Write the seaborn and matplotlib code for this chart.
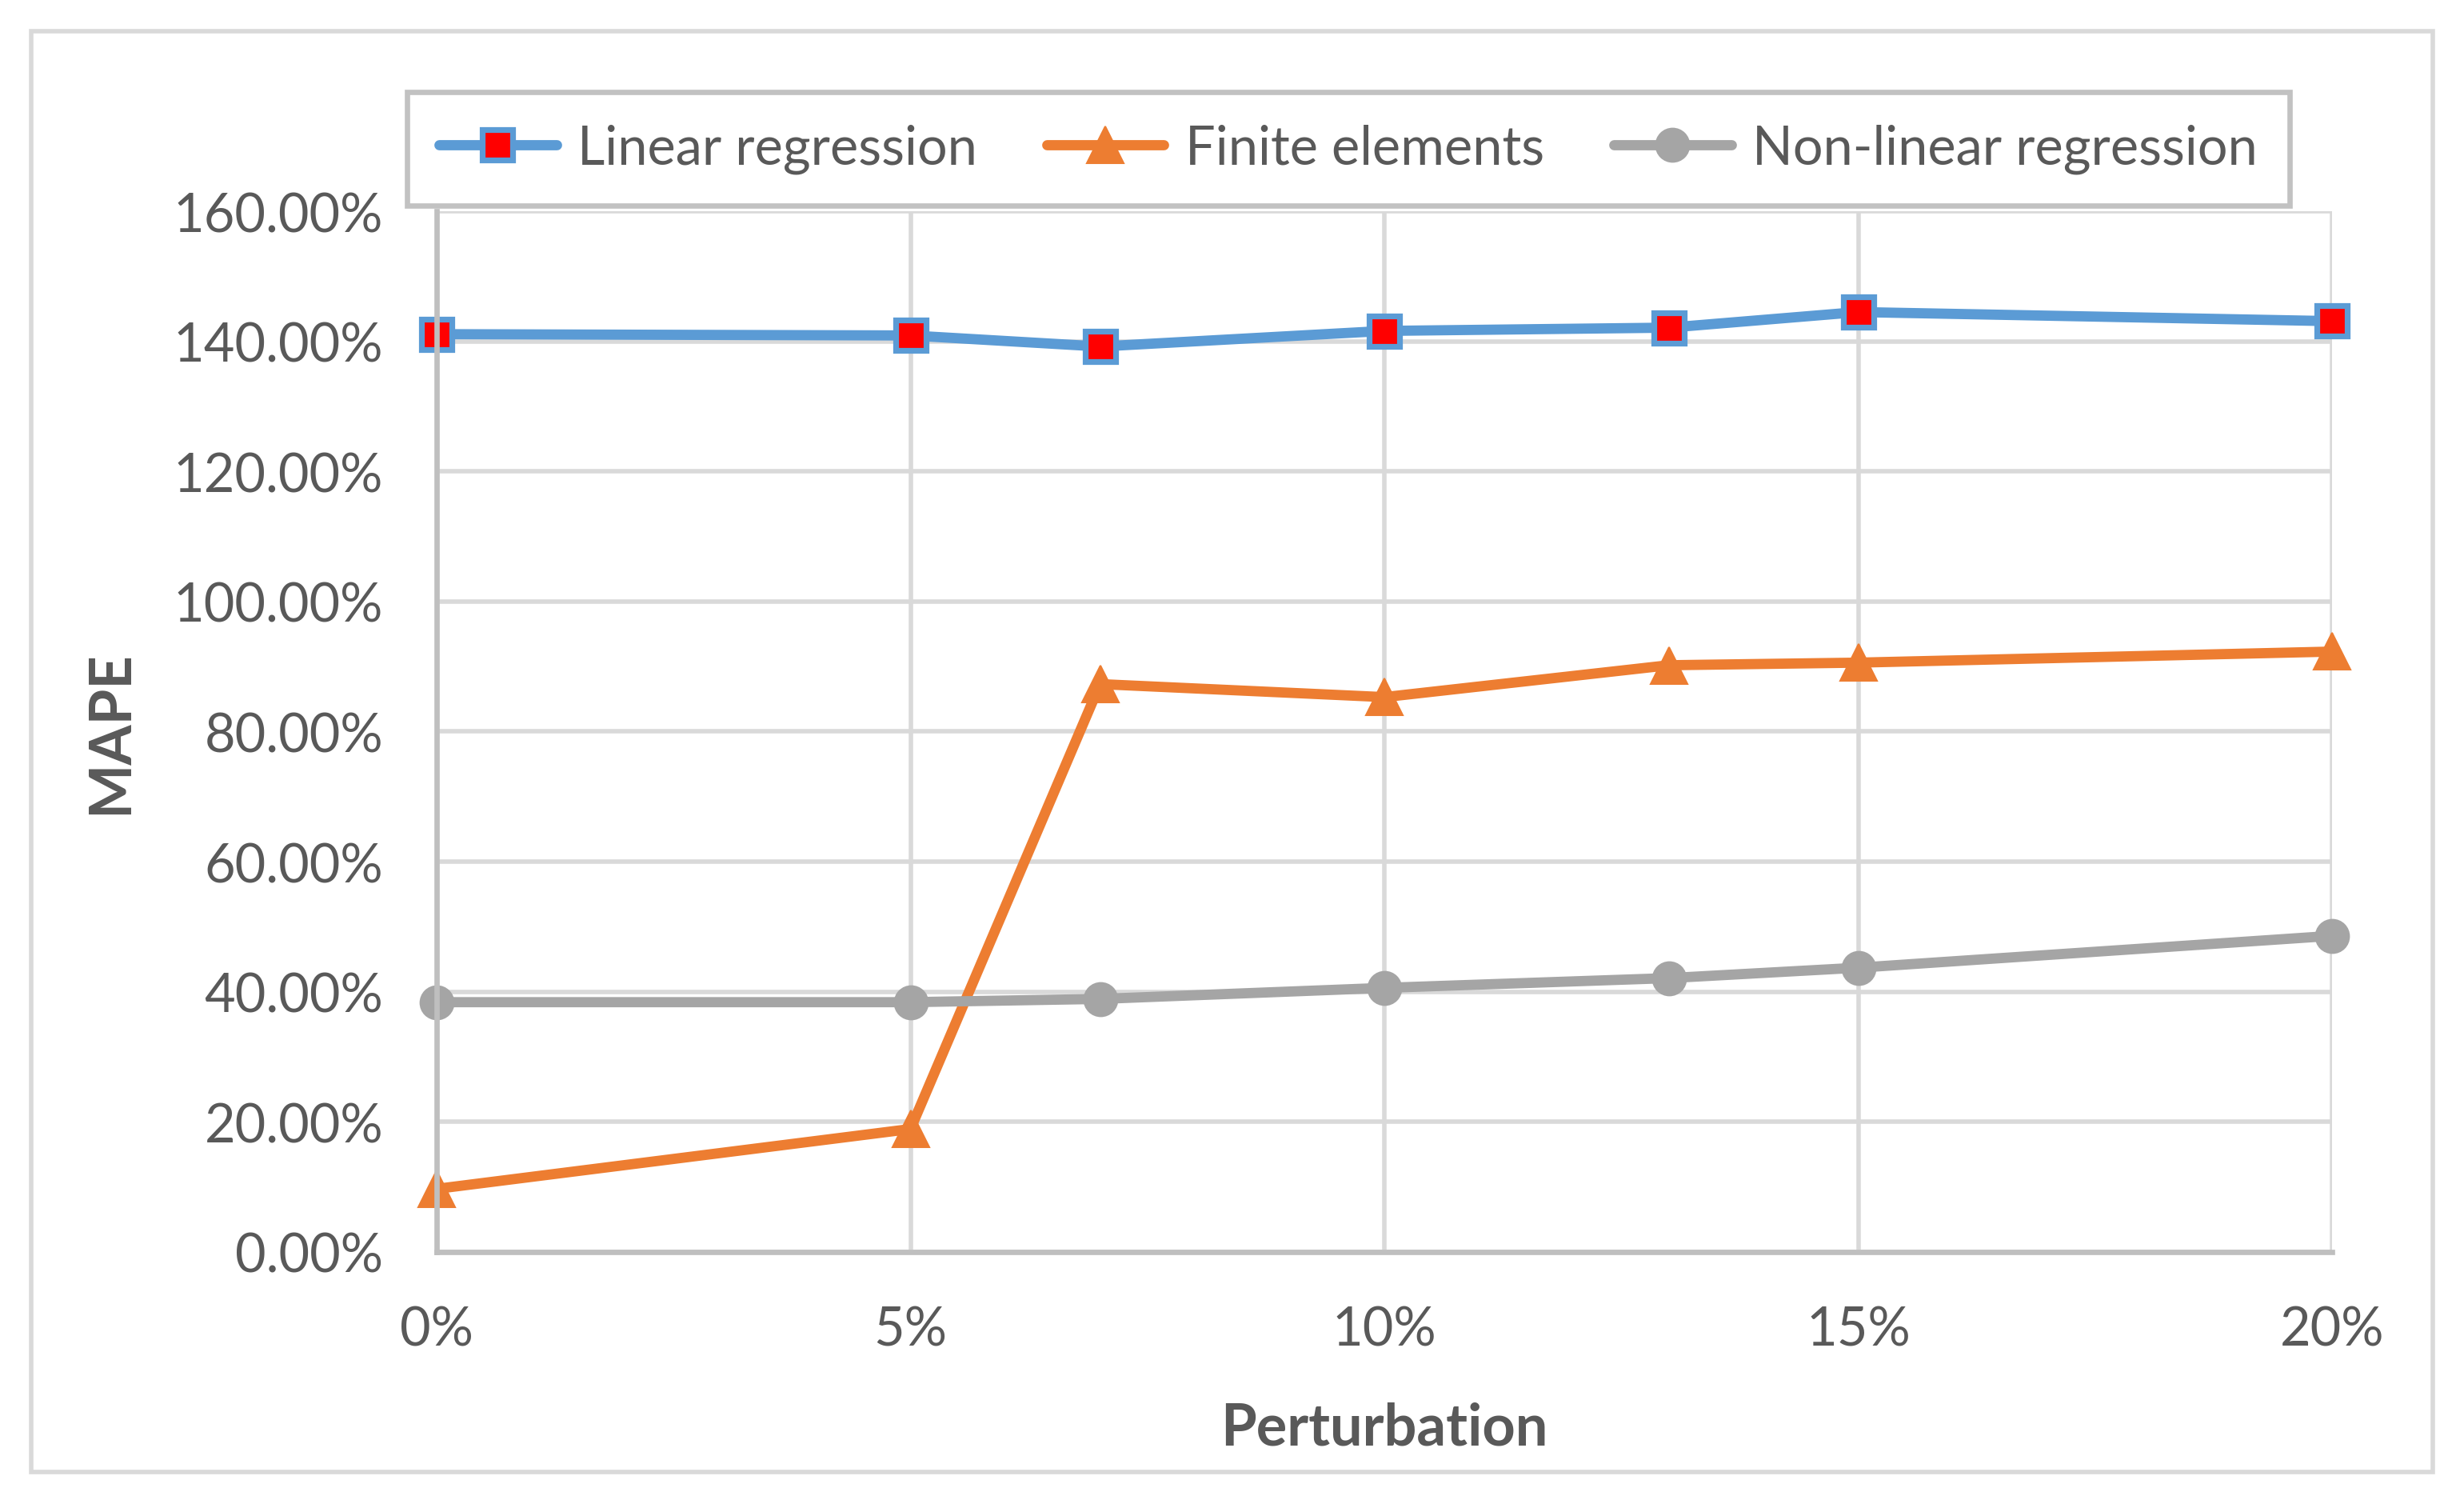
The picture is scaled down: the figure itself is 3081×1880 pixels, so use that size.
import matplotlib
matplotlib.use("Agg")
import matplotlib.pyplot as plt
from matplotlib.patches import Rectangle
from matplotlib.ticker import FuncFormatter, MultipleLocator
import pandas as pd
import seaborn as sns

perturbation = [0, 5, 7, 10, 13, 15, 20]
linear_reg = [141.1, 140.9, 139.2, 141.6, 142.1, 144.5, 143.1]
finite_el = [9.7, 18.9, 87.3, 85.3, 90.2, 90.6, 92.3]
nonlinear_reg = [38.4, 38.4, 38.9, 40.6, 42.1, 43.7, 48.6]
series_names = ["Linear regression", "Finite elements", "Non-linear regression"]

df = pd.DataFrame({
    "Perturbation": perturbation * 3,
    "MAPE": linear_reg + finite_el + nonlinear_reg,
    "Series": [n for n in series_names for _ in perturbation],
})

sns.set_style("white")
plt.rcParams["font.family"] = ["Lato", "DejaVu Sans"]
text_col = "#595959"

fig = plt.figure(figsize=(15.405, 9.405), dpi=200)
ax = fig.add_axes([0.1772, 0.1675, 0.7693, 0.6916])

styles = {
    "Linear regression": dict(color="#5B9BD5", marker="s", markersize=13.5,
                              markerfacecolor="#FF0000", markeredgecolor="#5B9BD5",
                              markeredgewidth=2.6),
    "Finite elements": dict(color="#ED7D31", marker="^", markersize=16.5,
                            markerfacecolor="#ED7D31", markeredgecolor="#ED7D31"),
    "Non-linear regression": dict(color="#A5A5A5", marker="o", markersize=15,
                                  markerfacecolor="#A5A5A5", markeredgecolor="#A5A5A5"),
}

for name in series_names:
    sub = df[df["Series"] == name]
    sns.lineplot(data=sub, x="Perturbation", y="MAPE", ax=ax, label=name,
                 linewidth=4.6, solid_capstyle="round", **styles[name])

ax.set_xlim(0, 20)
ax.set_ylim(0, 160)
ax.xaxis.set_major_locator(MultipleLocator(5))
ax.yaxis.set_major_locator(MultipleLocator(20))
ax.xaxis.set_major_formatter(FuncFormatter(lambda v, p: f"{v:.0f}%"))
ax.yaxis.set_major_formatter(FuncFormatter(lambda v, p: f"{v:.2f}%"))
ax.grid(True, color="#D9D9D9", linewidth=2)
ax.set_axisbelow(True)
for s in ["top", "right"]:
    ax.spines[s].set_visible(False)
for s in ["left", "bottom"]:
    ax.spines[s].set_color("#BFBFBF")
    ax.spines[s].set_linewidth(2.4)
for line in ax.lines:
    line.set_clip_on(False)
ax.tick_params(axis="both", length=0, labelsize=24, labelcolor=text_col)
ax.tick_params(axis="y", pad=24)
ax.tick_params(axis="x", pad=24)
ax.set_xlabel("Perturbation", fontsize=26, fontweight="bold", color=text_col, labelpad=21)
ax.set_ylabel("MAPE", fontsize=26, fontweight="bold", color=text_col, labelpad=16)

leg = ax.legend(loc="center", bbox_to_anchor=(0.5472, 0.9006), bbox_transform=fig.transFigure,
                ncol=3, fontsize=24, frameon=True, fancybox=False, handlelength=2.2,
                columnspacing=1.3, handletextpad=0.4, borderpad=0.6)
leg.get_frame().set_edgecolor("#B3B3B3")
leg.get_frame().set_linewidth(2.4)
for t in leg.get_texts():
    t.set_color(text_col)

fig.patches.append(Rectangle((0.0125, 0.0213), 0.975, 0.9575, transform=fig.transFigure,
                             fill=False, edgecolor="#D9D9D9", linewidth=2))

fig.savefig("out.png", dpi=200, facecolor="white")
plt.close(fig)
